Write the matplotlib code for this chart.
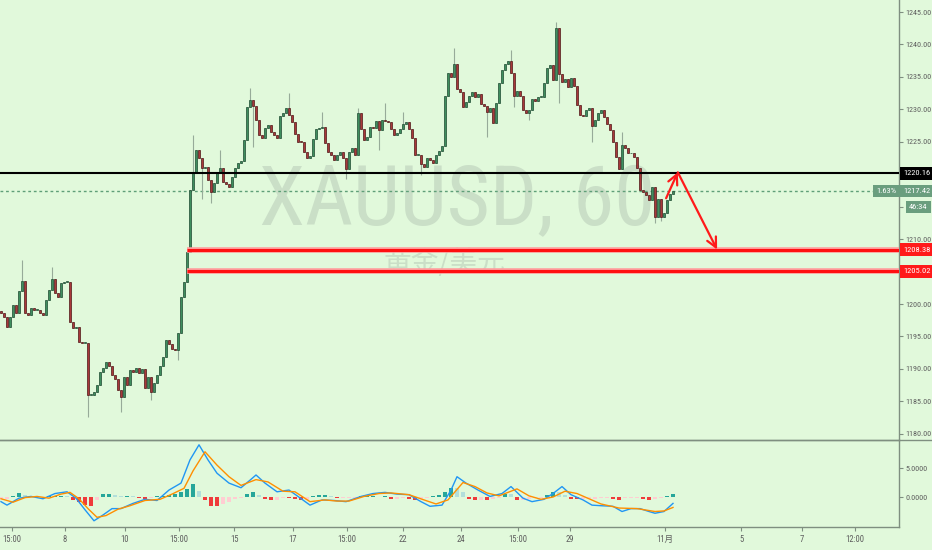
import matplotlib.pyplot as plt
from matplotlib import font_manager as fm
from matplotlib.lines import Line2D
from matplotlib.transforms import blended_transform_factory

# hourly closes, one per bar
first_open = 1199.0
closes = [
    1198.6, 1198.0, 1196.5, 1198.0, 1199.9, 1198.6, 1202.0, 1203.5, 1198.6, 1198.3,
    1199.4, 1199.1, 1199.1, 1198.6, 1198.3, 1200.6, 1202.2, 1203.8, 1201.7, 1201.1,
    1203.2, 1203.4, 1203.4, 1197.2, 1196.3, 1196.5, 1194.2, 1194.0, 1194.0, 1186.0,
    1186.0, 1186.5, 1187.5, 1189.5, 1190.1, 1191.1, 1190.5, 1189.0, 1188.5, 1186.8,
    1185.7, 1188.8, 1187.5, 1189.8, 1189.5, 1190.1, 1189.4, 1190.0, 1187.0, 1188.8,
    1186.5, 1187.8, 1189.0, 1190.5, 1191.8, 1194.5, 1193.8, 1193.0, 1192.9, 1195.5,
    1201.1, 1203.4, 1208.0, 1217.5, 1220.3, 1223.7, 1222.5, 1221.0, 1221.1, 1219.1,
    1217.3, 1218.7, 1220.2, 1221.0, 1218.8, 1218.5, 1218.0, 1219.5, 1221.0, 1221.8,
    1222.0, 1225.3, 1230.4, 1231.4, 1230.5, 1228.3, 1226.0, 1225.6, 1227.1, 1227.6,
    1226.5, 1226.0, 1225.6, 1229.0, 1229.5, 1230.2, 1229.1, 1228.0, 1226.2, 1225.0,
    1224.9, 1223.5, 1222.5, 1222.8, 1225.5, 1227.0, 1227.2, 1227.3, 1224.8, 1223.4,
    1223.0, 1222.2, 1223.0, 1223.4, 1222.5, 1220.8, 1223.5, 1224.0, 1223.0, 1229.4,
    1227.0, 1225.3, 1225.7, 1227.3, 1227.2, 1228.2, 1226.8, 1228.3, 1228.2, 1228.0,
    1227.0, 1226.0, 1226.4, 1227.0, 1227.7, 1228.0, 1227.0, 1225.6, 1223.0, 1223.0,
    1221.6, 1221.1, 1222.5, 1222.2, 1221.8, 1223.0, 1223.6, 1224.3, 1232.0, 1235.6,
    1235.0, 1237.0, 1233.2, 1232.6, 1230.4, 1231.2, 1232.0, 1232.7, 1231.9, 1232.4,
    1230.9, 1230.5, 1229.6, 1230.2, 1227.9, 1231.0, 1234.0, 1236.0, 1237.0, 1237.5,
    1235.6, 1232.0, 1232.8, 1232.0, 1229.9, 1229.4, 1229.9, 1231.6, 1231.3, 1231.9,
    1231.9, 1234.0, 1236.4, 1236.8, 1234.5, 1242.5, 1235.5, 1234.2, 1234.6, 1233.5,
    1234.8, 1233.6, 1230.6, 1229.2, 1229.0, 1229.9, 1230.2, 1227.5, 1228.4, 1229.4,
    1229.9, 1228.8, 1227.8, 1226.8, 1225.0, 1222.7, 1220.8, 1224.5, 1224.0, 1223.2,
    1223.3, 1222.7, 1220.9, 1217.6, 1217.3, 1216.8, 1216.0, 1218.0, 1213.4, 1216.2,
    1213.4, 1214.0, 1216.0, 1217.0, 1217.42,
]
# the wicks that stick out visibly
wick_high = {7: 1206.8, 17: 1205.7, 64: 1226.0, 73: 1223.8, 83: 1233.3, 96: 1232.5,
             107: 1229.6, 119: 1230.2, 128: 1231.0, 134: 1229.6, 151: 1239.5,
             170: 1239.1, 185: 1243.4, 207: 1226.5}
wick_low = {29: 1182.6, 40: 1183.3, 50: 1185.2, 59: 1191.4, 67: 1216.2, 70: 1215.5,
            84: 1224.2, 115: 1219.2, 126: 1223.7, 140: 1219.9, 162: 1225.7,
            171: 1230.4, 176: 1228.4, 186: 1231.0, 197: 1225.0, 218: 1212.5, 220: 1212.8}

# MACD panel
macd_idx = [0, 2, 6, 10, 14, 18, 22, 25, 28, 31, 34, 37, 40, 44, 48, 52, 56, 60, 63, 66,
            69, 72, 76, 80, 83, 85, 88, 92, 96, 99, 103, 107, 111, 115, 120, 124, 128, 132,
            136, 140, 143, 147, 150, 152, 155, 159, 163, 167, 170, 174, 177, 181, 184, 187,
            190, 194, 197, 200, 204, 207, 210, 213, 216, 218, 221, 224]
macd_val = [-0.8, -1.4, -0.2, 0.1, -0.3, 0.6, 0.9, -0.2, -2.2, -4.1, -3.1, -2.0, -2.0, -1.1,
            -0.4, -0.6, 1.2, 2.4, 6.4, 9.0, 6.4, 4.1, 2.4, 1.6, 2.9, 3.8, 2.4, 0.9, 1.2, 0.1,
            -1.4, -0.5, -0.6, -0.8, 0.1, 0.6, 0.8, 0.5, 0.4, -0.8, -1.6, -1.4, 1.2, 3.5, 2.4,
            1.2, 0.1, 0.6, 1.8, -0.2, -0.8, -0.4, 0.6, 1.8, 0.4, -0.5, -1.4, -1.5, -1.6,
            -2.5, -2.0, -2.0, -2.5, -2.8, -2.5, -1.1]
sig_idx = [0, 4, 8, 12, 16, 20, 23, 26, 29, 32, 35, 39, 43, 48, 53, 57, 61, 64, 68, 72, 76,
           80, 85, 89, 94, 98, 103, 108, 112, 116, 121, 126, 130, 136, 141, 145, 149, 154,
           158, 162, 166, 172, 176, 180, 184, 188, 192, 196, 200, 206, 212, 218, 221, 224]
sig_val = [-0.3, -0.9, -0.1, 0.1, -0.2, 0.5, 0.8, -0.3, -2.0, -3.5, -3.2, -2.1, -1.5, -0.6,
           -0.4, 0.5, 1.5, 4.5, 7.8, 5.5, 3.5, 2.0, 3.0, 2.6, 1.0, 0.9, -0.8, -0.5, -0.7,
           -0.7, 0.1, 0.6, 0.7, 0.4, -0.5, -1.2, -0.5, 2.5, 1.8, 0.7, 0.2, 1.4, 0.2, -0.4,
           0.0, 1.0, 0.6, -0.3, -1.2, -1.9, -2.0, -2.5, -2.4, -1.8]
hist_val = [
    -0.3, -0.3, 0.2, 0.7, 0.3, 0.1, 0.1, 0.0, 0.1, 0.2,
    0.2, 0.1, -0.5, -0.9, -1.4, -1.5, -0.6, 0.5, 0.6, 0.3,
    0.2, 0.2, 0.1, -0.2, -0.3, -0.2, 0.1, 0.2, 0.4, 0.6,
    0.8, 1.3, 2.2, 1.0, -0.6, -1.5, -1.6, -1.2, -0.8, -0.4,
    -0.2, 0.6, 0.9, 0.4, -0.3, -0.5, -0.5, -0.1, -0.2, -0.3,
    -0.6, -0.6, 0.1, 0.4, 0.4, 0.2, -0.2, -0.2, -0.1, -0.1,
    0.1, 0.1, 0.1, 0.0, 0.1, -0.3, -0.3, -0.2, -0.3, -0.5,
    -0.4, -0.2, 0.1, 0.4, 0.9, 1.6, 1.5, 0.8, -0.3, -0.5,
    -0.5, -0.6, -0.4, -0.2, 0.6, 0.5, -0.5, -0.5, -0.4, -0.2,
    -0.1, 0.3, 0.9, 0.8, 0.3, -0.3, -0.4, -0.4, -0.3, -0.3,
    -0.2, -0.1, -0.4, -0.5, -0.2, -0.1, -0.1, -0.4, -0.5, -0.3,
    -0.1, 0.1, 0.5,
]

# levels and annotations
resistance = 1220.16
last_price = 1217.42
supports = [1208.38, 1205.02]
support_start = 62
arrow_up = [(221.7, 1216.3), (225.6, 1220.3)]
arrow_down = [(225.6, 1220.3), (238.7, 1208.4)]

time_pos = [3.7, 21.3, 41.3, 59.3, 77.7, 97.3, 115.3, 134, 153.3, 172.3, 189.7, 221.3,
            246.7, 267, 284.7]
time_lbl = ["15:00", "8", "10", "15:00", "15", "17", "15:00", "22", "24", "15:00", "29",
            "11月", "5", "7", "12:00"]

# pick a narrow face for the scale labels, like TradingView's
names = {f.name for f in fm.fontManager.ttflist}
cond_dejavu = any(f.name == "DejaVu Sans" and f.stretch == "condensed"
                  for f in fm.fontManager.ttflist)
NARROW, STRETCH = "Liberation Sans", "normal"
for cand in ["Liberation Sans Narrow", "Roboto Condensed", "Open Sans Condensed"]:
    if cand in names:
        NARROW = cand
        break
else:
    if cond_dejavu:
        NARROW, STRETCH = "DejaVu Sans", "condensed"
is_narrow = NARROW != "Liberation Sans"
LS = 5.9 if is_narrow else 5.3

BG = "#e1f9db"
GRID = "#7f8f80"
TXT = "#5e5e5e"
plt.rcParams["font.family"] = [NARROW, "DejaVu Sans", "Noto Sans CJK SC"]
plt.rcParams["font.stretch"] = STRETCH

fig = plt.figure(figsize=(9.32, 5.5), dpi=100)
fig.patch.set_facecolor(BG)
ax = fig.add_axes([0, 110 / 550, 899 / 932, 440 / 550])
axm = fig.add_axes([0, 23 / 550, 899 / 932, 87 / 550], sharex=ax)

for a in (ax, axm):
    a.set_facecolor("none")
    for s in ("top", "left"):
        a.spines[s].set_visible(False)
    for s in ("right", "bottom"):
        a.spines[s].set_color(GRID)
        a.spines[s].set_linewidth(1.0)
    a.yaxis.tick_right()
    a.tick_params(axis="y", colors=GRID, labelcolor=TXT, labelsize=LS, length=3, pad=1.5)

# separator runs under the price scale as well
fig.add_artist(Line2D([0, 1], [110 / 550, 110 / 550], color=GRID, lw=1.0))

n = len(closes)
idx = list(range(n))
opens = [first_open] + closes[:-1]
highs = [max(o, c, wick_high.get(i, c)) for i, (o, c) in enumerate(zip(opens, closes))]
lows = [min(o, c, wick_low.get(i, c)) for i, (o, c) in enumerate(zip(opens, closes))]

ax.set_xlim(-1 / 3, 898 / 3)
ax.set_ylim(1179.05, 1246.85)

# watermark
wm_size = 60 if is_narrow else 50
ax.text(0.508, 0.54, "XAUUSD, 60", transform=ax.transAxes, ha="center", va="center",
        fontsize=wm_size, color="#cadfc7", zorder=0)
ax.text(0.494, 0.402, "黄金/美元", transform=ax.transAxes, ha="center", va="center",
        fontsize=20, color="#cadfc7", family=["Noto Sans CJK SC"], zorder=0)

ax.axhline(last_price, color="#5f9f78", lw=1, ls=(0, (2, 2)), zorder=1)

ax.vlines(idx, lows, highs, color="#97ab99", lw=0.8, zorder=2)
up = [c >= o for o, c in zip(opens, closes)]
body_h = [max(abs(c - o), 0.15) for o, c in zip(opens, closes)]
body_b = [min(o, c) for o, c in zip(opens, closes)]
ax.bar(idx, body_h, bottom=body_b, width=0.7,
       color=["#3f8e5e" if u else "#a8383a" for u in up],
       edgecolor=["#1e4a31" if u else "#4e1616" for u in up], lw=0.5, zorder=3)

ax.axhline(resistance, color="black", lw=1.5, zorder=4)
for lv in supports:
    ax.hlines(lv, support_start, 898 / 3, color="#ff9c9c", lw=4, zorder=4)
    ax.hlines(lv, support_start, 898 / 3, color="#ff1010", lw=2.2, zorder=5)

for p0, p1 in (arrow_up, arrow_down):
    ax.annotate("", xy=p1, xytext=p0, zorder=6,
                arrowprops=dict(arrowstyle="->,head_length=0.7,head_width=0.35",
                                color="#ff1a1a", lw=1.6, shrinkA=0, shrinkB=0))

# tick labels hidden under the price tags are left blank
yt = list(range(1180, 1250, 5))
ax.set_yticks(yt)
ax.set_yticklabels(["" if v in (1205, 1220) else f"{v:.2f}" for v in yt])
ax.tick_params(axis="x", bottom=False, labelbottom=False)

# price tags on the scale
TS = LS + 0.2
tr = blended_transform_factory(ax.transAxes, ax.transData)
tags = [(resistance, "black"), (last_price, "#6a9e7e"),
        (supports[0], "#ff1a1a"), (supports[1], "#ff1a1a")]
for lv, col in tags:
    ax.text(1.0045, lv, f"{lv:.2f}", transform=tr, ha="left", va="center",
            fontsize=TS, color="white", zorder=10, clip_on=False,
            bbox=dict(boxstyle="square,pad=0.4", fc=col, ec="none"))
ax.text(0.997, last_price, "1.63%", transform=tr, ha="right", va="center",
        fontsize=TS, color="white", zorder=10, clip_on=False,
        bbox=dict(boxstyle="square,pad=0.4", fc="#6a9e7e", ec="none"))
ax.text(1.011, 1214.95, "46:34", transform=tr, ha="left", va="center",
        fontsize=TS, color="white", zorder=10, clip_on=False,
        bbox=dict(boxstyle="square,pad=0.4", fc="#6a9e7e", ec="none"))

# MACD
hist_idx = list(range(0, 2 * len(hist_val), 2))
hcol = []
for i, v in enumerate(hist_val):
    prev = hist_val[i - 1] if i else v
    if v >= 0:
        hcol.append("#26a69a" if v >= prev else "#b2dfdb")
    else:
        hcol.append("#ef3b3b" if v < prev else "#ffcdd2")
axm.bar(hist_idx, hist_val, width=1.5, color=hcol, zorder=2)
axm.plot(macd_idx, macd_val, color="#2196f3", lw=1, zorder=3)
axm.plot(sig_idx, sig_val, color="#ff8f00", lw=1, zorder=3)
axm.set_ylim(-5.17, 9.83)
axm.set_yticks([0, 5])
axm.set_yticklabels(["0.0000", "5.0000"])
axm.set_xticks(time_pos)
axm.set_xticklabels(time_lbl)
axm.tick_params(axis="x", colors=GRID, labelcolor=TXT, labelsize=LS + 0.3, length=3, pad=3)

fig.savefig("out.png", dpi=100, facecolor=BG)
